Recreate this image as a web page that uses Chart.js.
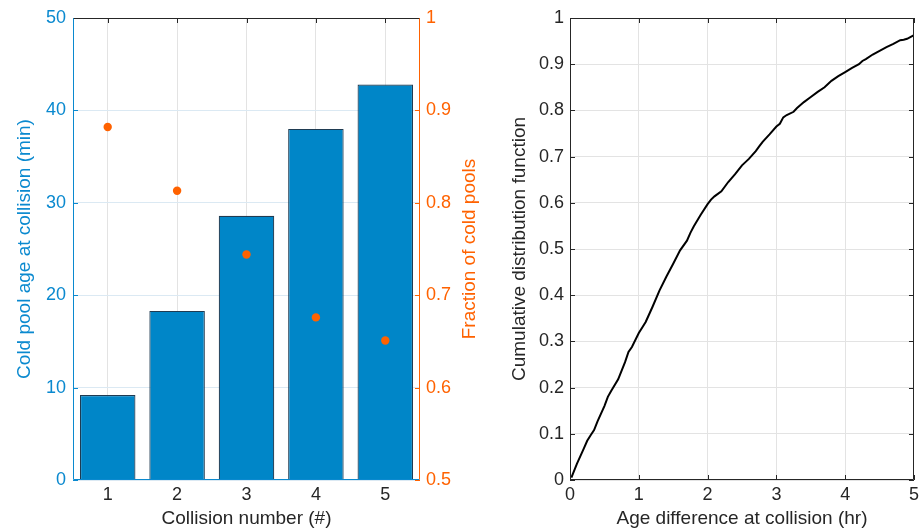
<!DOCTYPE html>
<html lang="en">
<head>
    <meta charset="UTF-8">
    <title>Cold pool collisions</title>
    <script src="https://cdn.jsdelivr.net/npm/chart.js"></script>
    <style>
        body {
            margin: 0;
            background-color: #ffffff;
        }
        .wrap {
            position: relative;
            width: 923px;
            height: 531px;
        }
        #left {
            position: absolute;
            left: 0;
            top: 0;
        }
        #right {
            position: absolute;
            left: 490px;
            top: 0;
        }
    </style>
</head>
<body>
    <div class="wrap">
        <canvas id="left" width="490" height="531"></canvas>
        <canvas id="right" width="433" height="531"></canvas>
    </div>

    <script>
        // left panel: collision number vs age and fraction
        const collisionNumbers = ['1', '2', '3', '4', '5'];
        const coldPoolAge = [9.2, 18.3, 28.6, 38.0, 42.8];
        const coldPoolFraction = [0.882, 0.813, 0.744, 0.676, 0.651];

        // right panel: CDF of age difference
        const ageDiffHours = [0.02, 0.1, 0.2, 0.25, 0.3, 0.35, 0.4, 0.5, 0.55, 0.6, 0.7, 0.8, 0.85, 0.9,
            1.0, 1.1, 1.2, 1.3, 1.4, 1.5, 1.6, 1.7, 1.75, 1.8, 1.9, 2.0, 2.05, 2.1, 2.2, 2.3, 2.4,
            2.5, 2.6, 2.7, 2.75, 2.8, 2.9, 3.0, 3.05, 3.1, 3.15, 3.25, 3.3, 3.4, 3.5, 3.6, 3.7,
            3.8, 3.9, 4.0, 4.1, 4.2, 4.25, 4.3, 4.4, 4.5, 4.6, 4.7, 4.8, 4.85, 4.9, 5.0];
        const cdfValues = [0.005, 0.035, 0.068, 0.085, 0.097, 0.108, 0.127, 0.16, 0.18, 0.193, 0.218,
            0.255, 0.277, 0.288, 0.318, 0.342, 0.375, 0.41, 0.44, 0.468, 0.497, 0.518, 0.535, 0.549,
            0.574, 0.597, 0.607, 0.614, 0.625, 0.645, 0.662, 0.681, 0.695, 0.712, 0.722, 0.732, 0.748,
            0.765, 0.771, 0.785, 0.79, 0.797, 0.805, 0.818, 0.829, 0.84, 0.85, 0.864, 0.874, 0.883,
            0.892, 0.9, 0.907, 0.911, 0.921, 0.929, 0.937, 0.944, 0.952, 0.953, 0.955, 0.963];

        const blue = '#0A89CF';
        const barBlue = '#0086C8';
        const orange = '#FF6200';
        const dark = '#262626';
        const fontFamily = "'Liberation Sans', Arial, Helvetica, sans-serif";
        const tickFont = { family: fontFamily, size: 18 };
        const titleFont = { family: fontFamily, size: 19 };
        const shortNum = v => String(Number(v.toFixed(2)));

        // draws the axes box and inward tick marks like the original figure
        const framePlugin = {
            id: 'frame',
            afterDatasetsDraw(chart, args, opts) {
                const ctx = chart.ctx;
                const a = chart.chartArea;
                const len = 5;
                ctx.save();
                ctx.lineWidth = 1;
                (opts.ticks || []).forEach(t => {
                    const scale = chart.scales[t.id];
                    ctx.strokeStyle = t.color;
                    scale.ticks.forEach((tk, i) => {
                        const p = Math.round(scale.getPixelForTick(i)) + 0.5;
                        ctx.beginPath();
                        if (scale.isHorizontal()) {
                            if (t.sides.includes('bottom')) { ctx.moveTo(p, a.bottom); ctx.lineTo(p, a.bottom - len); }
                            if (t.sides.includes('top')) { ctx.moveTo(p, a.top); ctx.lineTo(p, a.top + len); }
                        } else {
                            if (t.sides.includes('left')) { ctx.moveTo(a.left, p); ctx.lineTo(a.left + len, p); }
                            if (t.sides.includes('right')) { ctx.moveTo(a.right, p); ctx.lineTo(a.right - len, p); }
                        }
                        ctx.stroke();
                    });
                });
                const l = Math.round(a.left) + 0.5, r = Math.round(a.right) - 0.5;
                const tp = Math.round(a.top) + 0.5, b = Math.round(a.bottom) - 0.5;
                const edges = [
                    [opts.box.top, l, tp, r, tp],
                    [opts.box.bottom, l, b, r, b],
                    [opts.box.left, l, tp, l, b],
                    [opts.box.right, r, tp, r, b]
                ];
                edges.forEach(e => {
                    ctx.strokeStyle = e[0];
                    ctx.beginPath();
                    ctx.moveTo(e[1], e[2]);
                    ctx.lineTo(e[3], e[4]);
                    ctx.stroke();
                });
                if (opts.rightTitle) {
                    const s = chart.scales[opts.rightTitle.id];
                    ctx.fillStyle = opts.rightTitle.color;
                    ctx.font = titleFont.size + 'px ' + fontFamily;
                    ctx.textAlign = 'center';
                    ctx.textBaseline = 'middle';
                    ctx.translate(s.right - opts.rightTitle.offset, (a.top + a.bottom) / 2);
                    ctx.rotate(-Math.PI / 2);
                    ctx.fillText(opts.rightTitle.text, 0, 0);
                }
                ctx.restore();
            }
        };

        new Chart(document.getElementById('left').getContext('2d'), {
            data: {
                labels: collisionNumbers,
                datasets: [
                    {
                        type: 'line',
                        label: 'Fraction of cold pools',
                        data: coldPoolFraction,
                        yAxisID: 'y1',
                        showLine: false,
                        pointRadius: 4.2,
                        pointBackgroundColor: orange,
                        pointBorderWidth: 0,
                        order: 0
                    },
                    {
                        type: 'bar',
                        label: 'Cold pool age',
                        data: coldPoolAge,
                        yAxisID: 'y',
                        backgroundColor: barBlue,
                        borderColor: '#1F3B52',
                        borderWidth: 1.2,
                        barPercentage: 0.8,
                        categoryPercentage: 1,
                        order: 1
                    }
                ]
            },
            options: {
                responsive: false,
                animation: false,
                layout: { padding: { top: 18, left: 0, right: 0, bottom: 0 } },
                plugins: {
                    legend: { display: false },
                    tooltip: { enabled: false },
                    frame: {
                        ticks: [
                            { id: 'x', sides: ['top'], color: dark },
                            { id: 'y', sides: ['left'], color: blue },
                            { id: 'y1', sides: ['right'], color: orange }
                        ],
                        box: { top: dark, bottom: blue, left: blue, right: orange },
                        rightTitle: { id: 'y1', text: 'Fraction of cold pools', color: orange, offset: 20 }
                    }
                },
                scales: {
                    x: {
                        offset: true,
                        grid: { color: '#e3e3e3', offset: false, drawTicks: false },
                        border: { display: false },
                        ticks: { color: dark, font: tickFont, padding: 4 },
                        title: { display: true, text: 'Collision number (#)', color: dark, font: titleFont, padding: { top: 0, bottom: 1 } },
                        afterFit: s => { s.height = 51; }
                    },
                    y: {
                        position: 'left',
                        min: 0,
                        max: 50,
                        grid: { color: '#dbe9f3', drawTicks: false },
                        border: { display: false },
                        ticks: { stepSize: 10, color: blue, font: tickFont, padding: 7 },
                        title: { display: true, text: 'Cold pool age at collision (min)', color: blue, font: titleFont, padding: { top: 13, bottom: 0 } },
                        afterFit: s => { s.width = 73; }
                    },
                    y1: {
                        position: 'right',
                        min: 0.5,
                        max: 1,
                        grid: { drawOnChartArea: false, drawTicks: false },
                        border: { display: false },
                        ticks: { stepSize: 0.1, color: orange, font: tickFont, padding: 6, callback: shortNum },
                        afterFit: s => { s.width = 70; }
                    }
                }
            },
            plugins: [framePlugin]
        });

        new Chart(document.getElementById('right').getContext('2d'), {
            type: 'line',
            data: {
                datasets: [{
                    label: 'CDF',
                    data: ageDiffHours.map((h, i) => ({ x: h, y: cdfValues[i] })),
                    borderColor: '#000000',
                    borderWidth: 2,
                    pointRadius: 0,
                    tension: 0,
                    fill: false
                }]
            },
            options: {
                responsive: false,
                animation: false,
                layout: { padding: { top: 18, left: 0, right: 8, bottom: 0 } },
                plugins: {
                    legend: { display: false },
                    tooltip: { enabled: false },
                    frame: {
                        ticks: [
                            { id: 'x', sides: ['top', 'bottom'], color: dark },
                            { id: 'y', sides: ['left', 'right'], color: dark }
                        ],
                        box: { top: dark, bottom: dark, left: dark, right: dark }
                    }
                },
                scales: {
                    x: {
                        type: 'linear',
                        min: 0,
                        max: 5,
                        grid: { color: '#e3e3e3', drawTicks: false },
                        border: { display: false },
                        ticks: { stepSize: 1, color: dark, font: tickFont, padding: 4 },
                        title: { display: true, text: 'Age difference at collision (hr)', color: dark, font: titleFont, padding: { top: 0, bottom: 1 } },
                        afterFit: s => { s.height = 51; }
                    },
                    y: {
                        min: 0,
                        max: 1,
                        grid: { color: '#e3e3e3', drawTicks: false },
                        border: { display: false },
                        ticks: { stepSize: 0.1, color: dark, font: tickFont, padding: 6, callback: shortNum },
                        title: { display: true, text: 'Cumulative distribution function', color: dark, font: titleFont, padding: { top: 18, bottom: 0 } },
                        afterFit: s => { s.width = 80; }
                    }
                }
            },
            plugins: [framePlugin]
        });
    </script>
</body>
</html>
